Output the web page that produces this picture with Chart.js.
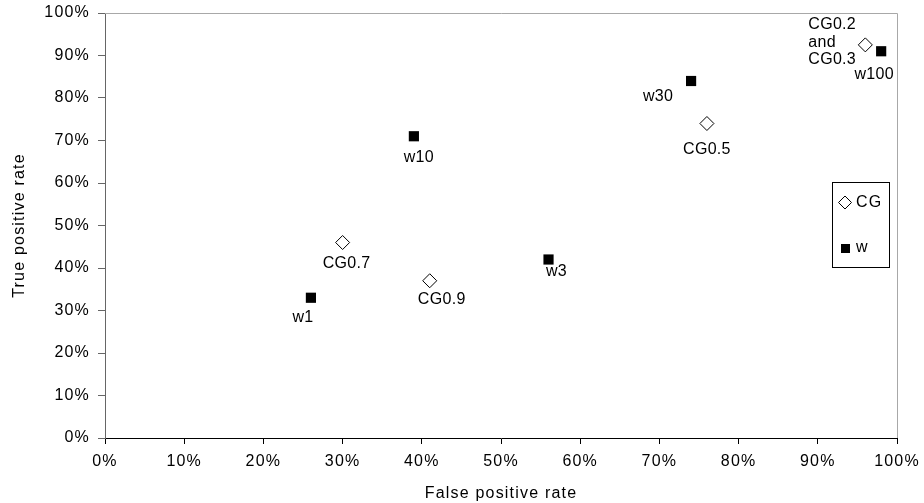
<!DOCTYPE html>
<html>
<head>
<meta charset="utf-8">
<script src="https://cdn.jsdelivr.net/npm/chart.js@4/dist/chart.umd.min.js"></script>
<style>
  html, body { margin: 0; padding: 0; background: #fff; }
</style>
</head>
<body>
<canvas id="roc" width="924" height="503"></canvas>
<script>
// Data (percent)
const cgNames = ['CG0.2\nand\nCG0.3', 'CG0.5', 'CG0.7', 'CG0.9'];
const cgFpr = [96, 76, 30, 41];
const cgTpr = [92.5, 74, 46, 37];

const wNames = ['w1', 'w3', 'w10', 'w30', 'w100'];
const wFpr = [26, 56, 39, 74, 98];
const wTpr = [33, 42, 71, 84, 91];

const tickValues = [0, 10, 20, 30, 40, 50, 60, 70, 80, 90, 100];

// where each point label sits relative to its marker
const labelOffsets = {
  'CG0.2\nand\nCG0.3': { dx: -57, dy: -20, align: 'left' },
  'CG0.5': { dx: 0, dy: 26 },
  'CG0.7': { dx: 4, dy: 21 },
  'CG0.9': { dx: 12, dy: 19 },
  'w1': { dx: -8, dy: 20 },
  'w3': { dx: 8, dy: 12 },
  'w10': { dx: 5, dy: 21 },
  'w30': { dx: -33, dy: 16 },
  'w100': { dx: -7, dy: 23 }
};

const FONT = '"Liberation Sans", Arial, sans-serif';
Chart.defaults.font.family = FONT;
Chart.defaults.font.size = 16;
Chart.defaults.color = '#000';

const toPoints = (xs, ys) => xs.map((x, i) => ({ x: x, y: ys[i] }));

// wider text like the original
const spacing = {
  id: 'spacing',
  beforeUpdate(chart) { chart.ctx.letterSpacing = '1.2px'; },
  beforeDraw(chart) { chart.ctx.letterSpacing = '1.2px'; }
};

// light frame on top and right of the plot
const frame = {
  id: 'frame',
  beforeDatasetsDraw(chart) {
    const { ctx, chartArea: a } = chart;
    ctx.save();
    ctx.strokeStyle = '#a8a8a8';
    ctx.lineWidth = 1;
    ctx.beginPath();
    ctx.moveTo(a.left, a.top + 0.5);
    ctx.lineTo(a.right + 0.5, a.top + 0.5);
    ctx.lineTo(a.right + 0.5, a.bottom);
    ctx.stroke();
    ctx.restore();
  }
};

const pointLabels = {
  id: 'pointLabels',
  afterDatasetsDraw(chart) {
    const ctx = chart.ctx;
    ctx.save();
    ctx.font = '16px ' + FONT;
    ctx.letterSpacing = '0.3px';
    ctx.fillStyle = '#000';
    ctx.textBaseline = 'middle';
    chart.data.datasets.forEach((ds, i) => {
      chart.getDatasetMeta(i).data.forEach((pt, j) => {
        const name = ds.names[j];
        const o = labelOffsets[name];
        ctx.textAlign = o.align || 'center';
        name.split('\n').forEach((line, k) => {
          ctx.fillText(line, pt.x + o.dx, pt.y + o.dy + k * 17.5);
        });
      });
    });
    ctx.restore();
  }
};

// boxed legend on the right
const boxLegend = {
  id: 'boxLegend',
  afterDraw(chart) {
    const ctx = chart.ctx;
    ctx.save();
    ctx.strokeStyle = '#000';
    ctx.lineWidth = 1;
    ctx.strokeRect(832.5, 182.5, 57, 85);
    // diamond
    ctx.fillStyle = '#fff';
    ctx.beginPath();
    ctx.moveTo(845, 196);
    ctx.lineTo(851.5, 202.5);
    ctx.lineTo(845, 209);
    ctx.lineTo(838.5, 202.5);
    ctx.closePath();
    ctx.fill();
    ctx.stroke();
    // square
    ctx.fillStyle = '#000';
    ctx.fillRect(841, 244, 9, 9);
    ctx.font = '16px ' + FONT;
    ctx.letterSpacing = '1.2px';
    ctx.textAlign = 'left';
    ctx.textBaseline = 'middle';
    ctx.fillText('CG', 856, 203);
    ctx.fillText('w', 856, 248);
    ctx.restore();
  }
};

new Chart(document.getElementById('roc'), {
  type: 'scatter',
  data: {
    datasets: [{
      label: 'CG',
      names: cgNames,
      data: toPoints(cgFpr, cgTpr),
      pointStyle: 'rectRot',
      radius: 7,
      backgroundColor: '#fff',
      borderColor: '#000',
      borderWidth: 1
    }, {
      label: 'w',
      names: wNames,
      data: toPoints(wFpr, wTpr),
      pointStyle: 'rect',
      radius: 7.2,
      backgroundColor: '#000',
      borderColor: '#000',
      borderWidth: 0
    }]
  },
  options: {
    responsive: false,
    animation: false,
    layout: { padding: { top: 13, right: 27, left: 0, bottom: 0 } },
    plugins: {
      legend: { display: false },
      tooltip: { enabled: false }
    },
    scales: {
      x: {
        type: 'linear',
        min: 0,
        max: 100,
        afterFit: s => { s.height = 65; s.paddingLeft = 0; s.paddingRight = 0; },
        afterBuildTicks: s => { s.ticks = tickValues.map(v => ({ value: v })); },
        ticks: { callback: v => v + '%', padding: 8, maxRotation: 0 },
        grid: { drawOnChartArea: false, tickLength: 6, color: '#000' },
        border: { color: '#000' },
        title: { display: true, text: 'False positive rate', padding: { top: 2, bottom: 0 } }
      },
      y: {
        type: 'linear',
        min: 0,
        max: 100,
        afterFit: s => { s.width = 105; s.paddingTop = 0; s.paddingBottom = 0; },
        afterBuildTicks: s => { s.ticks = tickValues.map(v => ({ value: v })); },
        ticks: { callback: v => v + '%', padding: 8 },
        grid: { drawOnChartArea: false, tickLength: 7, color: '#666' },
        border: { color: '#666' },
        title: { display: true, text: 'True positive rate', padding: { top: 10, bottom: 0 } }
      }
    }
  },
  plugins: [spacing, frame, pointLabels, boxLegend]
});
</script>
</body>
</html>
